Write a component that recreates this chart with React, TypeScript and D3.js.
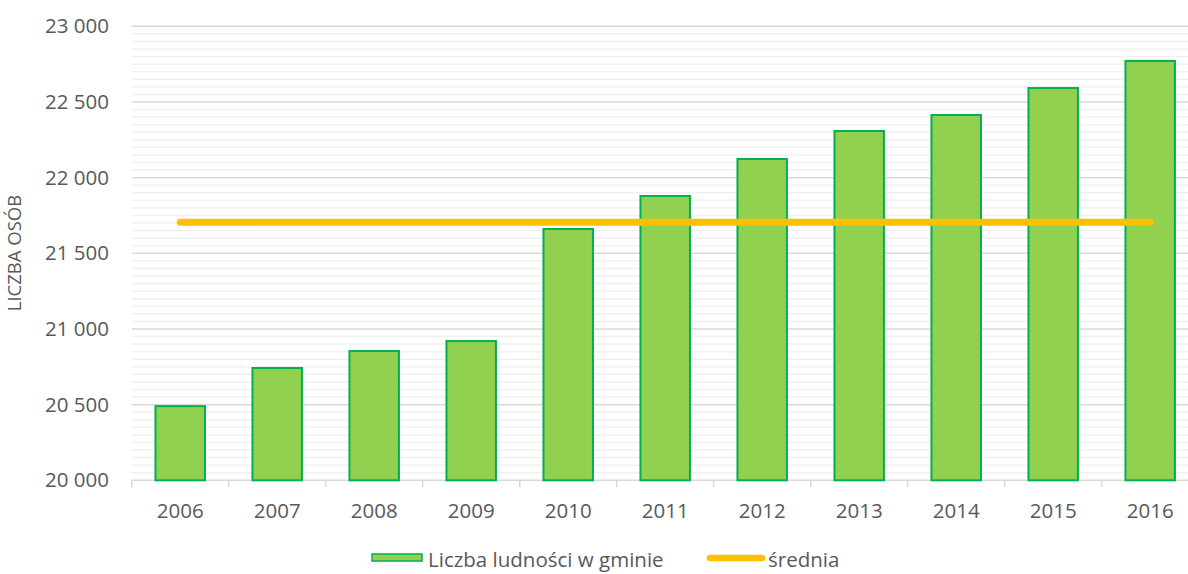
import React from "react";
import * as d3 from "d3";

const years = ["2006", "2007", "2008", "2009", "2010", "2011", "2012", "2013", "2014", "2015", "2016"];
const population = [20490, 20742, 20854, 20920, 21661, 21879, 22123, 22308, 22414, 22592, 22771];
const average = [21705, 21705, 21705, 21705, 21705, 21705, 21705, 21705, 21705, 21705, 21705];
const yTicks = [20000, 20500, 21000, 21500, 22000, 22500, 23000];
const seriesNames = ["Liczba ludności w gminie", "średnia"];

const W = 1188;
const H = 574;
const left = 131.7;
const right = 1198.7;
const top = 26.3;
const bottom = 480.3;
const FONT = "'Open Sans', sans-serif";

const fmt = (v: number) => {
  const s = String(v);
  return s.slice(0, s.length - 3) + " " + s.slice(-3);
};

export default function App() {
  const x = d3.scaleBand<string>().domain(years).range([left, right]).paddingInner(0.49).paddingOuter(0.245);
  const xc = d3.scalePoint<string>().domain(years).range([left, right]).padding(0.5);
  const y = d3.scaleLinear().domain([20000, 23000]).range([bottom, top]);
  const minor = d3.range(20050, 23000, 50).filter((v) => v % 500 !== 0);
  const line = d3
    .line<number>()
    .x((_, i) => xc(years[i]) as number)
    .y((d) => y(d));
  const tickXs = d3.range(years.length + 1).map((i) => left + i * x.step());

  return (
    <svg width={W} height={H} style={{ position: "absolute", left: 0, top: 0, background: "#fff" }}>
      {minor.map((v) => (
        <line key={"m" + v} x1={left} x2={right} y1={y(v)} y2={y(v)} stroke="#f0f0f0" strokeWidth={1.5} />
      ))}
      {yTicks.map((v) => (
        <line key={"g" + v} x1={left} x2={right} y1={y(v)} y2={y(v)} stroke="#d9d9d9" strokeWidth={1.5} />
      ))}
      {yTicks.map((v) => (
        <text key={"t" + v} x={109} y={y(v)} dy="0.35em" textAnchor="end" fontFamily={FONT} fontSize={20.5} fill="#595959">
          {fmt(v)}
        </text>
      ))}
      {tickXs.map((tx, i) => (
        <line key={"xt" + i} x1={tx} x2={tx} y1={bottom} y2={bottom + 7} stroke="#d9d9d9" strokeWidth={1.5} />
      ))}
      {population.map((v, i) => (
        <rect
          key={"b" + i}
          x={x(years[i])}
          y={y(v)}
          width={x.bandwidth()}
          height={y(20000) - y(v)}
          fill="#92d050"
          stroke="#00b050"
          strokeWidth={2}
        />
      ))}
      <path d={line(average) || ""} fill="none" stroke="#ffc000" strokeWidth={7} strokeLinecap="round" />
      {years.map((yr) => (
        <text key={"xl" + yr} x={xc(yr)} y={518} textAnchor="middle" fontFamily={FONT} fontSize={20.5} fill="#595959">
          {yr}
        </text>
      ))}
      <text
        transform="translate(21,253) rotate(-90)"
        textAnchor="middle"
        fontFamily={FONT}
        fontSize={18.5}
        fill="#595959"
      >
        LICZBA OSÓB
      </text>
      <rect x={372} y={554} width={50} height={7} fill="#92d050" stroke="#00b050" strokeWidth={1.5} />
      <text x={428} y={567} fontFamily={FONT} fontSize={20.5} fill="#595959">
        {seriesNames[0]}
      </text>
      <line x1={710} x2={762} y1={558} y2={558} stroke="#ffc000" strokeWidth={6.5} strokeLinecap="round" />
      <text x={768} y={567} fontFamily={FONT} fontSize={20.5} fill="#595959">
        {seriesNames[1]}
      </text>
    </svg>
  );
}
